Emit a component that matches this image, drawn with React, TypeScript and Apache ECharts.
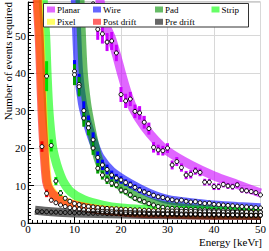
import React, { useEffect, useRef } from 'react';
import * as echarts from 'echarts';

// ---------- data ----------
const seriesNames = ['Planar', 'Wire', 'Pad', 'Strip', 'Pixel', 'Post drift', 'Pre drift'];

// fitted bands [energy, events]
const planarBand = [[15, 63], [15.7, 58], [16.7, 53], [17.9, 49.5], [19, 45], [20.2, 39.5], [21.4, 34.5], [22.7, 30.3], [25, 25.7], [27.5, 22], [30, 19.2], [35, 15.5], [40, 12.6], [45, 10.3], [50, 8.0]];
const wireBand = [[10.0, 68], [10.2, 59], [10.5, 50], [10.9, 40], [11.7, 32], [12.8, 26.5], [14, 22], [15.5, 17.5], [18, 13.8], [22, 10.5], [26, 8.0], [30, 6.3], [35, 5.4], [40, 4.8], [45, 4.4], [50, 4.1]];
const padBand = [[11.0, 68], [11.2, 59], [11.5, 50], [11.9, 40], [12.6, 32], [13.3, 27], [14.3, 21], [15.5, 15.8], [17.5, 12.5], [20, 9.8], [23, 7.2], [26, 5.6], [30, 4.4], [35, 3.8], [40, 3.5], [45, 3.3], [50, 3.1]];
const stripBand = [[3.2, 68], [3.3, 59], [3.8, 50], [4.1, 40], [4.5, 30], [5.2, 21], [5.8, 17.3], [6.6, 14], [7.6, 11], [9.2, 8.3], [12, 6.2], [16, 4.8], [20, 4.0], [25, 3.6], [30, 3.4], [40, 3.1], [50, 2.9]];
const pixelBand = [[2.1, 68], [2.2, 59], [2.6, 50], [2.9, 40], [3.2, 30], [3.6, 20.5], [4.2, 11], [5.0, 8.6], [6.3, 6.9], [8.5, 5.5], [12, 4.3], [15.5, 3.6], [22.6, 2.9], [30, 2.6], [40, 2.3], [50, 2.2]];
const postBand = [[1.9, 68], [2.0, 59], [2.4, 50], [2.7, 40], [3.0, 30], [3.4, 20.5], [4.0, 11], [4.8, 8.5], [6.1, 6.8], [8.3, 5.4], [12, 4.2], [15.5, 3.5], [22.6, 2.7], [30, 2.4], [40, 2.1], [50, 2.0]];
const preBand = [[1.5, 3.4], [5, 3.0], [10, 2.7], [20, 2.4], [30, 2.2], [40, 2.1], [50, 2.0]];

// simulated points
const planarX = [14, 15, 16, 17, 18, 19, 20, 21, 22, 23, 24, 25, 26, 27, 28, 29, 30, 31, 32, 33, 34, 35, 36, 37, 38, 39, 40, 41, 42, 43, 44, 45, 46, 47, 48, 49, 50];
const planarY = [58.5, 51.7, 50.5, 48.3, 48.6, 45.4, 34.3, 32.6, 33.1, 29.8, 29.4, 26.9, 25.2, 20.2, 19.5, 19.3, 20.0, 15.5, 16.4, 14.8, 12.8, 13.0, 13.9, 13.5, 10.9, 10.9, 9.7, 9.7, 10.3, 9.9, 9.7, 10.2, 8.8, 8.6, 8.4, 8.1, 7.5];
const planarErr = [2.5, 2.8, 2.6, 2.4, 2.4, 2.2, 2.0, 1.9, 1.9, 1.8, 1.8, 1.7, 1.6, 1.4, 1.4, 1.3, 1.3, 1.2, 1.2, 1.1, 1.1, 1.1, 1.0, 1.0, 0.9, 0.9, 0.9, 0.9, 0.8, 0.8, 0.8, 0.8, 0.7, 0.7, 0.7, 0.7, 0.6];

const wireX = [10, 11, 12, 13, 14, 15, 16, 17, 18, 19, 20, 21, 22, 23, 24, 25, 26, 27, 28, 29, 30, 31, 32, 33, 34, 35, 36, 37, 38, 39, 40, 41, 42, 43, 44, 45, 46, 47, 48, 49, 50];
const wireY = [40.5, 37, 30, 26.5, 22.2, 17.5, 15.5, 14.3, 12.8, 12, 11.5, 10.8, 10.2, 9.5, 8.8, 8.3, 7.9, 7.4, 7.0, 6.8, 6.4, 6.2, 5.9, 6.1, 5.8, 5.6, 5.7, 5.4, 5.2, 5.3, 5.0, 4.9, 4.8, 4.7, 4.6, 4.5, 4.4, 4.3, 4.2, 4.1, 4.0];
const wireErr = [3.0, 2.8, 2.5, 2.2, 2.0, 1.6, 1.4, 1.3, 1.2, 1.1, 1.0, 0.9, 0.9, 0.8, 0.8, 0.7, 0.7, 0.7, 0.6, 0.6, 0.6, 0.5, 0.5, 0.5, 0.5, 0.5, 0.4, 0.4, 0.4, 0.4, 0.4, 0.4, 0.4, 0.3, 0.3, 0.3, 0.3, 0.3, 0.3, 0.3, 0.3];

const padX = [10, 11, 12, 13, 14, 15, 16, 17, 18, 19, 20, 21, 22, 23, 24, 25, 26, 27, 28, 29, 30, 31, 32, 33, 34, 35, 36, 37, 38, 39, 40, 41, 42, 43, 44, 45, 46, 47, 48, 49, 50];
const padY = [39.6, 36.4, 28, 25.4, 20, 14.6, 12.8, 11.5, 10.6, 10.2, 8.8, 8.4, 7.5, 6.6, 6.2, 5.7, 5.2, 4.8, 4.4, 4.2, 3.9, 3.9, 3.8, 3.7, 3.7, 3.6, 3.6, 3.5, 3.5, 3.4, 3.4, 3.3, 3.3, 3.3, 3.2, 3.2, 3.1, 3.1, 3.0, 3.0, 3.0];
const padErr = [2.8, 2.6, 2.3, 2.0, 1.8, 1.4, 1.2, 1.1, 1.0, 0.9, 0.9, 0.8, 0.8, 0.7, 0.7, 0.6, 0.6, 0.6, 0.5, 0.5, 0.5, 0.4, 0.4, 0.4, 0.4, 0.4, 0.3, 0.3, 0.3, 0.3, 0.3, 0.3, 0.3, 0.3, 0.3, 0.3, 0.3, 0.3, 0.3, 0.3, 0.3];

const stripX = [4, 5, 6, 7, 8, 9, 10, 11, 12, 13, 14, 15, 16, 17, 18, 19, 20, 21, 22, 23, 24, 25, 26, 27, 28, 29, 30, 31, 32, 33, 34, 35, 36, 37, 38, 39, 40, 41, 42, 43, 44, 45, 46, 47, 48, 49, 50];
const stripY = [39.2, 20.7, 11.2, 8.0, 6.6, 5.8, 5.2, 4.9, 4.6, 4.4, 4.3, 4.1, 4.0, 3.9, 3.8, 3.8, 3.7, 3.6, 3.6, 3.5, 3.5, 3.4, 3.4, 3.3, 3.3, 3.3, 3.2, 3.2, 3.2, 3.1, 3.1, 3.1, 3.1, 3.0, 3.0, 3.0, 3.0, 3.0, 2.9, 2.9, 2.9, 2.9, 2.9, 2.9, 2.8, 2.8, 2.8];
const stripErr = [4.0, 1.6, 1.1, 0.8, 0.6, 0.5, 0.4, 0.4, 0.3, 0.3, 0.3, 0.3, 0.3, 0.3, 0.2, 0.2, 0.2, 0.2, 0.2, 0.2, 0.2, 0.2, 0.2, 0.2, 0.2, 0.2, 0.2, 0.2, 0.2, 0.2, 0.2, 0.2, 0.2, 0.2, 0.2, 0.2, 0.2, 0.2, 0.2, 0.2, 0.2, 0.2, 0.2, 0.2, 0.2, 0.2, 0.2];

const postX = [3, 4, 5, 6, 7, 8, 9, 10, 11, 12, 13, 14, 15, 16, 17, 18, 19, 20, 21, 22, 23, 24, 25, 26, 27, 28, 29, 30, 31, 32, 33, 34, 35, 36, 37, 38, 39, 40, 41, 42, 43, 44, 45, 46, 47, 48, 49, 50];
const postY = [20.4, 7.9, 6.1, 5.4, 4.8, 4.4, 4.1, 3.9, 3.7, 3.5, 3.4, 3.3, 3.2, 3.1, 3.0, 3.0, 2.9, 2.9, 2.8, 2.8, 2.7, 2.7, 2.7, 2.6, 2.6, 2.6, 2.5, 2.5, 2.5, 2.5, 2.4, 2.4, 2.4, 2.4, 2.3, 2.3, 2.3, 2.3, 2.3, 2.2, 2.2, 2.2, 2.2, 2.2, 2.1, 2.1, 2.1, 2.1];
const postErr = [1.4, 1.0, 0.6, 0.4, 0.3, 0.3, 0.2, 0.2, 0.2, 0.2, 0.2, 0.2, 0.2, 0.2, 0.2, 0.2, 0.2, 0.2, 0.2, 0.2, 0.2, 0.2, 0.2, 0.2, 0.2, 0.2, 0.2, 0.2, 0.2, 0.2, 0.2, 0.2, 0.2, 0.2, 0.2, 0.2, 0.2, 0.2, 0.2, 0.2, 0.2, 0.2, 0.2, 0.2, 0.2, 0.2, 0.2, 0.2];

const preX = [2, 3, 4, 5, 6, 7, 8, 9, 10, 11, 12, 13, 14, 15, 16, 17, 18, 19, 20, 21, 22, 23, 24, 25, 26, 27, 28, 29, 30, 31, 32, 33, 34, 35, 36, 37, 38, 39, 40, 41, 42, 43, 44, 45, 46, 47, 48, 49, 50];
const preY = [3.1, 3.0, 3.0, 2.9, 2.9, 2.8, 2.8, 2.8, 2.7, 2.7, 2.7, 2.6, 2.6, 2.6, 2.6, 2.5, 2.5, 2.5, 2.5, 2.4, 2.4, 2.4, 2.4, 2.4, 2.3, 2.3, 2.3, 2.3, 2.3, 2.3, 2.2, 2.2, 2.2, 2.2, 2.2, 2.2, 2.1, 2.1, 2.1, 2.1, 2.1, 2.1, 2.1, 2.0, 2.0, 2.0, 2.0, 2.0, 2.0];

const xTicks = [0, 10, 20, 30, 40, 50];
const yTicks = [0, 10, 20, 30, 40, 50];

// ---------- styles ----------
const FONT = '"Liberation Serif", serif';
const baseColors = ['#cc00ff', '#0000ff', '#008e00', '#00ff00', '#ffff00', '#ff0000', '#000000'];
const paleColors = ['#e066ff', '#6666ff', '#66bb66', '#66ff66', '#ffff66', '#ff6666', '#666666'];
const barColors = ['#cc00ff', '#0000ff', '#00a000', '#00e000', '#eeee00', '#ee0000', '#333333'];

function bandSeries(idx: number, data: number[][]) {
  return {
    name: seriesNames[idx],
    type: 'line',
    data,
    smooth: 0.3,
    showSymbol: false,
    silent: true,
    z: 2,
    itemStyle: { color: paleColors[idx] },
    lineStyle: { color: baseColors[idx], width: 9, opacity: 0.6 },
  };
}

function errSeries(idx: number, xs: number[], ys: number[], errs: number[]) {
  const color = barColors[idx];
  return {
    name: seriesNames[idx] + ' err',
    type: 'custom',
    silent: true,
    z: 3,
    data: xs.map((x, i) => [x, ys[i] - errs[i], ys[i] + errs[i]]),
    renderItem: (params: any, api: any) => {
      const x = api.value(0);
      const top = api.coord([x, api.value(2)]);
      const bot = api.coord([x, api.value(1)]);
      const cs = params.coordSys;
      const r = echarts.graphic.clipRectByRect(
        { x: top[0] - 1.5, y: top[1], width: 3, height: bot[1] - top[1] },
        { x: cs.x, y: cs.y, width: cs.width, height: cs.height }
      );
      if (!r) return null;
      return { type: 'rect', shape: r, style: { fill: color } };
    },
  };
}

function pointSeries(idx: number, xs: number[], ys: number[], fill: string) {
  return {
    name: seriesNames[idx] + ' points',
    type: 'scatter',
    silent: true,
    z: 4,
    symbol: 'circle',
    symbolSize: 4,
    data: xs.map((x, i) => [x, ys[i]]),
    itemStyle: { color: fill, borderColor: '#000', borderWidth: 1, opacity: 1 },
  };
}

const legendCommon = {
  orient: 'vertical',
  itemWidth: 8,
  itemHeight: 6,
  itemGap: 2.3,
  padding: 0,
  icon: 'rect',
  selectedMode: false,
  z: 10,
  textStyle: { fontFamily: FONT, fontSize: 9, color: '#000', lineHeight: 10, padding: [0, 0, 0, -3] },
};

function legendItem(idx: number) {
  return { name: seriesNames[idx], itemStyle: { color: paleColors[idx] } };
}

export default function App() {
  const ref = useRef<HTMLDivElement>(null);
  useEffect(() => {
    if (!ref.current) return;
    const chart = echarts.init(ref.current, null, { renderer: 'svg' });
    const option: any = {
      animation: false,
      backgroundColor: '#fff',
      textStyle: { fontFamily: FONT },
      grid: {
        left: 28, right: 8.5, top: 2, bottom: 28,
        show: true, borderColor: '#999', borderWidth: 1, backgroundColor: 'transparent',
      },
      xAxis: {
        type: 'value', min: xTicks[0], max: xTicks[xTicks.length - 1], interval: 10,
        axisLine: { show: true, onZero: false, lineStyle: { color: '#000', width: 1 } },
        axisTick: { show: true, inside: true, length: 6, lineStyle: { color: '#000' } },
        minorTick: { show: true, splitNumber: 10, length: 3, lineStyle: { color: '#000' } },
        axisLabel: { margin: 0, fontFamily: FONT, fontSize: 11, color: '#000' },
        splitLine: { show: true, lineStyle: { color: '#d8d8d8', width: 1 } },
      },
      yAxis: {
        type: 'value', min: yTicks[0], max: 59, interval: 10,
        axisLine: { show: true, onZero: false, lineStyle: { color: '#000', width: 1 } },
        axisTick: { show: true, inside: true, length: 6, lineStyle: { color: '#000' } },
        minorTick: { show: true, splitNumber: 10, length: 3, lineStyle: { color: '#000' } },
        axisLabel: { margin: 2, fontFamily: FONT, fontSize: 11, color: '#000', showMaxLabel: false },
        splitLine: { show: true, lineStyle: { color: '#d8d8d8', width: 1 } },
      },
      legend: [
        { ...legendCommon, left: 47, top: 4.5, data: [legendItem(0), legendItem(4)] },
        { ...legendCommon, left: 93, top: 4.5, data: [legendItem(1), legendItem(5)] },
        { ...legendCommon, left: 155, top: 4.5, data: [legendItem(2), legendItem(6)] },
        { ...legendCommon, left: 211.5, top: 4.5, data: [legendItem(3)] },
      ],
      graphic: [
        {
          type: 'rect', z: 9, silent: true,
          shape: { x: 43.5, y: 3.5, width: 205, height: 23.5 },
          style: { fill: '#fff', stroke: '#333', lineWidth: 1 },
        },
        {
          type: 'text', x: 8, y: 2, rotation: Math.PI / 2, z: 10, silent: true,
          style: { text: 'Number of events required', fontFamily: FONT, fontSize: 11, fill: '#000', align: 'right', verticalAlign: 'middle' },
        },
        {
          type: 'text', x: 262, y: 242, z: 10, silent: true,
          style: { text: 'Energy [keVr]', fontFamily: FONT, fontSize: 11, fill: '#000', align: 'right', verticalAlign: 'middle' },
        },
      ],
      series: [
        bandSeries(0, planarBand),
        bandSeries(1, wireBand),
        bandSeries(2, padBand),
        bandSeries(3, stripBand),
        bandSeries(4, pixelBand),
        bandSeries(5, postBand),
        bandSeries(6, preBand),
        errSeries(0, planarX, planarY, planarErr),
        errSeries(1, wireX, wireY, wireErr),
        errSeries(2, padX, padY, padErr),
        errSeries(3, stripX, stripY, stripErr),
        errSeries(5, postX, postY, postErr),
        pointSeries(0, planarX, planarY, '#ffffff'),
        pointSeries(1, wireX, wireY, '#ffffff'),
        pointSeries(2, padX, padY, '#ffffff'),
        pointSeries(3, stripX, stripY, '#ffffff'),
        pointSeries(5, postX, postY, '#ffffff'),
        pointSeries(6, preX, preY, 'rgba(0,0,0,0)'),
      ],
    };
    chart.setOption(option);
    return () => chart.dispose();
  }, []);
  return (
    <div
      ref={ref}
      style={{ position: 'fixed', left: 0, top: 0, width: 269, height: 251 }}
    />
  );
}
